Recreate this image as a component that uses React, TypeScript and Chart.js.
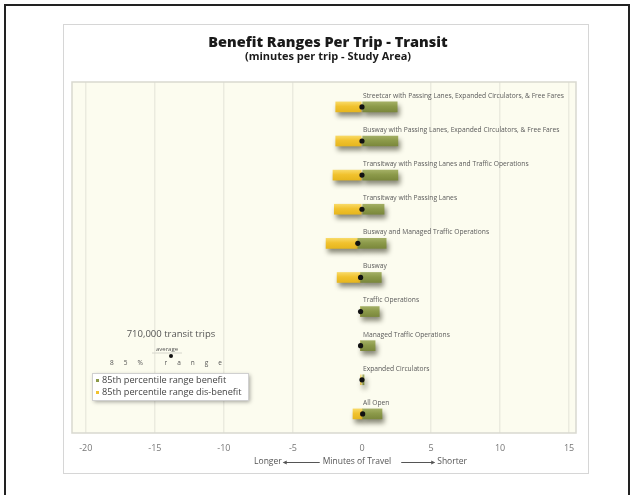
import React, { useEffect, useRef } from 'react';
import { Chart, registerables } from 'chart.js';

Chart.register(...registerables);

const categories = [
  'Streetcar with Passing Lanes, Expanded Circulators, & Free Fares',
  'Busway with Passing Lanes, Expanded Circulators, & Free Fares',
  'Transitway with Passing Lanes and Traffic Operations',
  'Transitway with Passing Lanes',
  'Busway and Managed Traffic Operations',
  'Busway',
  'Traffic Operations',
  'Managed Traffic Operations',
  'Expanded Circulators',
  'All Open',
];
const disBenefitLow = [-1.9, -1.9, -2.1, -2.0, -2.6, -1.8, -0.1, -0.1, -0.1, -0.65];
const averageValue = [0.0, 0.0, 0.0, 0.0, -0.3, -0.1, -0.1, -0.1, 0.0, 0.05];
const benefitHigh = [2.55, 2.6, 2.6, 1.6, 1.75, 1.4, 1.25, 0.95, 0.15, 1.45];
const tickValues = [-20, -15, -10, -5, 0, 5, 10, 15];

const titleText = 'Benefit Ranges Per Trip - Transit';
const subtitleText = '(minutes per trip - Study Area)';
const tripsNote = '710,000 transit trips';
const averageNote = 'average';
const rangeNote = '85% range';
const benefitLabel = '85th percentile range benefit';
const disBenefitLabel = '85th percentile range dis-benefit';
const axisLeftWord = 'Longer';
const axisMidText = 'Minutes of Travel';
const axisRightWord = 'Shorter';

const GREEN = '#8c9a4a';
const GREEN_LIGHT = '#a3af64';
const GREEN_DARK = '#7b883c';
const YELLOW = '#f1c22e';
const YELLOW_LIGHT = '#f8d965';
const YELLOW_DARK = '#e6b61e';
const FONT = '"Open Sans", "Liberation Sans", sans-serif';

function barGradient(c: any, light: string, mid: string, dark: string) {
  const chart = c.chart;
  const ys = chart.scales && chart.scales.y;
  if (!ys || c.dataIndex === undefined || !chart.chartArea) return mid;
  const y = ys.getPixelForValue(c.dataIndex);
  if (!Number.isFinite(y)) return mid;
  const g = chart.ctx.createLinearGradient(0, y - 5, 0, y + 5);
  g.addColorStop(0, light);
  g.addColorStop(0.45, mid);
  g.addColorStop(1, dark);
  return g;
}

const decorPlugin = {
  id: 'decor',
  beforeDraw(chart: any) {
    const { ctx, chartArea: a } = chart;
    ctx.save();
    ctx.fillStyle = '#fcfcef';
    ctx.fillRect(a.left, a.top, a.right - a.left, a.bottom - a.top);
    ctx.restore();
  },
  beforeDatasetDraw(chart: any, args: any) {
    const ctx = chart.ctx;
    ctx.save();
    if (chart.data.datasets[args.index].type !== 'line') {
      ctx.shadowColor = 'rgba(60,60,40,0.6)';
      ctx.shadowBlur = 5;
      ctx.shadowOffsetX = 2;
      ctx.shadowOffsetY = 4;
    }
  },
  afterDatasetDraw(chart: any) {
    chart.ctx.restore();
  },
  afterDraw(chart: any) {
    const { ctx, chartArea: a, scales } = chart;
    const xs = scales.x;
    const ys = scales.y;
    ctx.save();
    ctx.strokeStyle = '#d9d9d0';
    ctx.lineWidth = 1.5;
    ctx.strokeRect(a.left, a.top, a.right - a.left, a.bottom - a.top);

    const cx = (a.left + a.right) / 2 + 4;
    ctx.fillStyle = '#1a1a1a';
    ctx.textAlign = 'center';
    ctx.textBaseline = 'middle';
    ctx.font = `800 14.5px ${FONT}`;
    ctx.fillText(titleText, cx, a.top - 39);
    ctx.font = `bold 11px ${FONT}`;
    ctx.fillText(subtitleText, cx, a.top - 25);

    const x0 = xs.getPixelForValue(0);
    ctx.font = `6.7px ${FONT}`;
    ctx.fillStyle = '#5a5a5a';
    ctx.textAlign = 'left';
    categories.forEach((c, i) => {
      ctx.fillText(c, x0 + 1, ys.getPixelForValue(i) - 11);
    });

    const nx = a.left + 98;
    ctx.textAlign = 'center';
    ctx.fillStyle = '#555';
    ctx.font = `9.5px ${FONT}`;
    ctx.fillText(tripsNote, nx + 1, a.bottom - 99);
    ctx.font = `6px ${FONT}`;
    ctx.fillText(averageNote, nx - 3, a.bottom - 84);
    ctx.strokeStyle = '#d6d6cc';
    ctx.lineWidth = 1;
    ctx.beginPath();
    ctx.moveTo(nx - 18, a.bottom - 80);
    ctx.lineTo(nx + 12, a.bottom - 80);
    ctx.stroke();
    ctx.fillStyle = '#111';
    ctx.beginPath();
    ctx.arc(nx + 1, a.bottom - 77, 2, 0, Math.PI * 2);
    ctx.fill();
    ctx.fillStyle = '#555';
    ctx.font = `6.5px ${FONT}`;
    (ctx as any).letterSpacing = '10px';
    ctx.fillText(rangeNote, nx + 1, a.bottom - 70);
    (ctx as any).letterSpacing = '0px';

    const lx = a.left + 20;
    const ly = a.bottom - 60;
    const lw = 156;
    const lh = 27;
    ctx.save();
    ctx.shadowColor = 'rgba(0,0,0,0.35)';
    ctx.shadowBlur = 4;
    ctx.shadowOffsetX = 2;
    ctx.shadowOffsetY = 2;
    ctx.fillStyle = '#ffffff';
    ctx.fillRect(lx, ly, lw, lh);
    ctx.restore();
    ctx.strokeStyle = '#d0d0d0';
    ctx.lineWidth = 1;
    ctx.strokeRect(lx + 0.5, ly + 0.5, lw, lh);
    const items = [
      { t: benefitLabel, c: GREEN },
      { t: disBenefitLabel, c: YELLOW },
    ];
    ctx.textAlign = 'left';
    ctx.font = `9.2px ${FONT}`;
    items.forEach((it, k) => {
      const yy = ly + 7.5 + k * 12;
      ctx.fillStyle = it.c;
      ctx.fillRect(lx + 4, yy - 1.5, 3, 3);
      ctx.fillStyle = '#444';
      ctx.fillText(it.t, lx + 10, yy);
    });

    const ty = a.bottom + 29;
    ctx.font = `8.5px ${FONT}`;
    ctx.fillStyle = '#555';
    ctx.strokeStyle = '#555';
    ctx.lineWidth = 1;
    const mw = ctx.measureText(axisMidText).width;
    const mc = x0 - 5;
    ctx.textAlign = 'center';
    ctx.fillText(axisMidText, mc, ty);
    const l1 = mc - mw / 2 - 3;
    const l0 = l1 - 36;
    const r0 = mc + mw / 2 + 10;
    const r1 = r0 + 33;
    ctx.beginPath();
    ctx.moveTo(l0, ty + 0.5);
    ctx.lineTo(l1, ty + 0.5);
    ctx.moveTo(r0, ty + 0.5);
    ctx.lineTo(r1, ty + 0.5);
    ctx.stroke();
    ctx.beginPath();
    ctx.moveTo(l0 - 1, ty + 0.5);
    ctx.lineTo(l0 + 3, ty - 1.5);
    ctx.lineTo(l0 + 3, ty + 2.5);
    ctx.closePath();
    ctx.moveTo(r1 + 1, ty + 0.5);
    ctx.lineTo(r1 - 3, ty - 1.5);
    ctx.lineTo(r1 - 3, ty + 2.5);
    ctx.closePath();
    ctx.fill();
    ctx.textAlign = 'right';
    ctx.fillText(axisLeftWord, l0 - 2, ty);
    ctx.textAlign = 'left';
    ctx.fillText(axisRightWord, r1 + 3, ty);
    ctx.restore();
  },
};

export default function App() {
  const ref = useRef<HTMLCanvasElement>(null);
  useEffect(() => {
    if (!ref.current) return;
    const chart = new Chart(ref.current, {
      type: 'bar',
      data: {
        datasets: [
          {
            type: 'line',
            label: averageNote,
            data: categories.map((_, i) => ({ x: averageValue[i], y: i })),
            showLine: false,
            pointRadius: 2.6,
            pointBackgroundColor: '#111',
            pointBorderWidth: 0,
            order: 0,
          } as any,
          {
            label: benefitLabel,
            data: categories.map((_, i) => ({ x: [averageValue[i], benefitHigh[i]], y: i })),
            backgroundColor: (c: any) => barGradient(c, GREEN_LIGHT, GREEN, GREEN_DARK),
            barThickness: 10,
            grouped: false,
            order: 1,
          },
          {
            label: disBenefitLabel,
            data: categories.map((_, i) => ({ x: [disBenefitLow[i], averageValue[i]], y: i })),
            backgroundColor: (c: any) => barGradient(c, YELLOW_LIGHT, YELLOW, YELLOW_DARK),
            barThickness: 10,
            grouped: false,
            order: 2,
          },
        ],
      },
      options: {
        indexAxis: 'y',
        animation: false,
        responsive: false,
        maintainAspectRatio: false,
        layout: { padding: { left: 72, right: 59, top: 82, bottom: 0 } },
        plugins: { legend: { display: false }, tooltip: { enabled: false } },
        scales: {
          x: {
            type: 'linear',
            position: 'bottom',
            min: -21,
            max: 15.5,
            offset: false,
            afterBuildTicks: (s: any) => {
              s.ticks = tickValues.map((v) => ({ value: v }));
            },
            afterFit: (s: any) => {
              s.height = 62;
            },
            border: { display: false },
            grid: {
              drawTicks: false,
              offset: false,
              color: (c: any) => (c.tick && c.tick.value === 0 ? 'rgba(0,0,0,0)' : '#ebebdf'),
              lineWidth: 1.5,
            },
            ticks: {
              padding: 10,
              color: '#777',
              font: { family: FONT, size: 9 },
              maxRotation: 0,
              autoSkip: false,
            },
          },
          y: {
            type: 'linear',
            min: -0.73,
            max: 9.56,
            reverse: true,
            offset: false,
            grid: { offset: false },
            display: false,
          },
        },
      } as any,
      plugins: [decorPlugin],
    });
    return () => chart.destroy();
  }, []);

  return (
    <div>
      <div
        style={{
          position: 'absolute',
          left: 4,
          top: 4,
          width: 626,
          height: 491,
          boxSizing: 'border-box',
          borderTop: '2px solid #222',
          borderLeft: '2px solid #222',
          borderRight: '2px solid #222',
          background: '#fff',
        }}
      />
      <div
        style={{
          position: 'absolute',
          left: 63,
          top: 24,
          width: 526,
          height: 450,
          boxSizing: 'border-box',
          border: '1px solid #d6d6d6',
          background: '#fff',
        }}
      />
      <canvas
        ref={ref}
        width={635}
        height={495}
        style={{ position: 'absolute', left: 0, top: 0, width: 635, height: 495 }}
      />
    </div>
  );
}
